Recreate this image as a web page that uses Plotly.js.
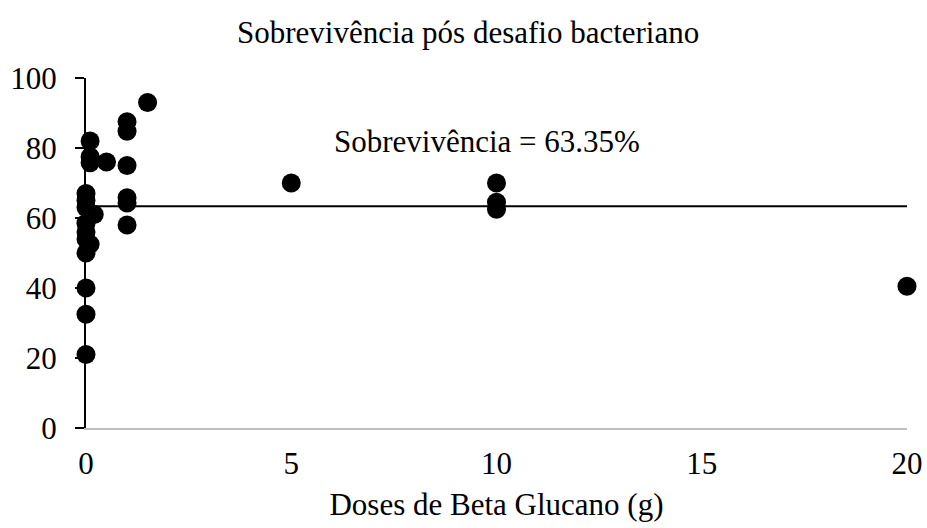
<!DOCTYPE html>
<html>
<head>
<meta charset="utf-8">
<script src="https://cdn.plot.ly/plotly-3.0.1.min.js"></script>
<style>html,body{margin:0;padding:0;background:#fff;}#chart{width:927px;height:528px;}</style>
</head>
<body>
<div id="chart"></div>
<script>
var doses = [0,0,0,0,0,0,0,0,0,0, 0.1,0.1,0.1,0.1, 0.2, 0.5, 1,1,1,1,1,1, 1.5, 5, 10,10,10, 20];
var survival = [67,65,63,58.5,56,54,50,40,32.5,21, 82,77.5,75.8,52.5, 61, 76, 87.5,84.8,75,65.8,64.3,58, 93, 70, 70,64.5,62.5, 40.5];
var meanX = [0, 20];
var meanY = [63.35, 63.35];
var xTicks = [0, 5, 10, 15, 20];
var yTicks = [0, 20, 40, 60, 80, 100];
var titleText = 'Sobrevivência pós desafio bacteriano';
var xTitle = 'Doses de Beta Glucano (g)';
var meanLabel = 'Sobrevivência = 63.35%';

var font = '"Liberation Serif", "Times New Roman", serif';
var data = [
  {x: meanX, y: meanY, mode: 'lines', line: {color: '#000', width: 2}, hoverinfo: 'skip', cliponaxis: false},
  {x: doses, y: survival, mode: 'markers', marker: {color: '#000', size: 19}, cliponaxis: false}
];
var layout = {
  width: 927, height: 528,
  margin: {l: 86, r: 20, t: 78, b: 100},
  paper_bgcolor: '#fff', plot_bgcolor: '#fff',
  showlegend: false,
  font: {family: font, color: '#000', size: 31},
  title: {text: titleText, font: {family: font, size: 31, color: '#000'}, x: 0.505, xanchor: 'center', y: 0.94, yanchor: 'middle'},
  xaxis: {
    range: [0, 20], tickvals: xTicks, ticktext: xTicks.map(String),
    showgrid: false, zeroline: false, showline: true, linecolor: '#bfbfbf', linewidth: 2,
    ticks: '', ticklabelstandoff: 7, tickfont: {family: font, size: 31, color: '#000'},
    title: {text: xTitle, font: {family: font, size: 31, color: '#000'}, standoff: 13}
  },
  yaxis: {
    range: [0, 100], tickvals: yTicks, ticktext: yTicks.map(String),
    showgrid: false, zeroline: false, showline: true, linecolor: '#000', linewidth: 2,
    ticks: 'outside', ticklen: 9, tickwidth: 2, tickcolor: '#000', ticklabelstandoff: 12,
    tickfont: {family: font, size: 31, color: '#000'}
  },
  annotations: [{
    x: 0.488, y: (428 - 141) / 350, xref: 'paper', yref: 'paper', showarrow: false,
    text: meanLabel, font: {family: font, size: 31, color: '#000'}, xanchor: 'center', yanchor: 'middle'
  }]
};
Plotly.newPlot('chart', data, layout, {displayModeBar: false, staticPlot: true});
</script>
</body>
</html>
